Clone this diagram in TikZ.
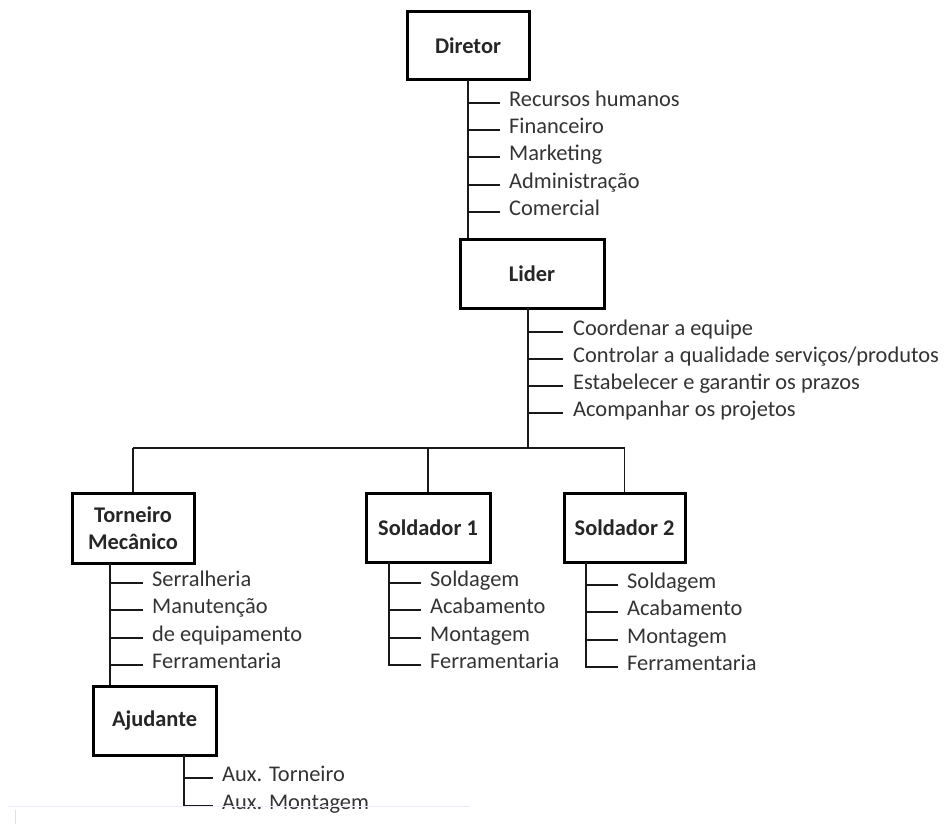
\documentclass[tikz,border=0pt]{standalone}
\usepackage{fontspec}
\setmainfont{Carlito}
\usetikzlibrary{positioning}

\tikzset{
  cargo/.style={rectangle, draw=black, line width=3pt, fill=white, align=center,
    font=\fontsize{22.4}{27}\selectfont\bfseries, text=black!85, inner sep=2pt},
  tarefa/.style={anchor=west, inner sep=0pt, text=black!80, text height=12pt, text depth=5pt},
  ramo/.style={line width=1.9pt, black!90},
}

\begin{document}
\begin{tikzpicture}[x=1pt, y=-1pt, font=\fontsize{22.4}{27}\selectfont]
    \useasboundingbox (0,0) rectangle (944,824);

    % cargos
    \node(dir)[cargo, minimum width=122pt, minimum height=68pt] at (468,46) {Diretor};
    \node(lid)[cargo, minimum width=144pt, minimum height=69pt] at (532,273.5) {Lider};
    \node(tor)[cargo, minimum width=122pt, minimum height=70pt] at (133,528) {Torneiro\\Mecânico};
    \node(sa)[cargo, minimum width=124pt, minimum height=69pt] at (428,527.5) {Soldador 1};
    \node(sb)[cargo, minimum width=121pt, minimum height=69pt] at (624.5,527.5) {Soldador 2};
    \node(aju)[cargo, minimum width=123pt, minimum height=69pt] at (154.5,720.5) {Ajudante};

    \coordinate (dirT) at (468,80);
    \coordinate (lidT) at (528,308);
    \coordinate (torT) at (110,563);
    \coordinate (saT) at (389,562);
    \coordinate (sbT) at (586,562);
    \coordinate (ajuT) at (184,755);

    % tarefas
    \foreach \t [count=\i] in {Recursos humanos, Financeiro, Marketing, Administração, Comercial}
      \node(d\i)[tarefa] at (509,{103+27.2*(\i-1)}) {\t};
    \foreach \t [count=\i] in {Coordenar a equipe, Controlar a qualidade serviços/produtos,
        Estabelecer e garantir os prazos, Acompanhar os projetos}
      \node(l\i)[tarefa] at (573,{332+27.1*(\i-1)}) {\t};
    \foreach \t [count=\i] in {Serralheria, Manutenção, de equipamento, Ferramentaria}
      \node(t\i)[tarefa] at (152,{583+27.3*(\i-1)}) {\t};
    \foreach \t [count=\i] in {Soldagem, Acabamento, Montagem, Ferramentaria}
      \node(a\i)[tarefa] at (430,{583+27.3*(\i-1)}) {\t};
    \foreach \t [count=\i] in {Soldagem, Acabamento, Montagem, Ferramentaria}
      \node(b\i)[tarefa] at (627,{585+27.3*(\i-1)}) {\t};
    \foreach \t [count=\i] in {Aux. Torneiro, Aux. Montagem}
      \node(x\i)[tarefa] at (222,{778+28*(\i-1)}) {\t};

    % troncos
    \draw[ramo] (dirT) -- (dirT |- lid.north);
    \draw[ramo] (lidT) -- (lidT |- 0,448) coordinate (bar);
    \draw[ramo] (tor.north |- bar) -- (sb.north |- bar);
    \foreach \c in {tor, sa, sb}
      \draw[ramo] (\c.north |- bar) -- (\c.north);
    \draw[ramo] (torT) -- (torT |- aju.north);
    \draw[ramo] (saT) |- ([xshift=-9pt]a4.west);
    \draw[ramo] (sbT) |- ([xshift=-9pt]b4.west);
    \draw[ramo] (ajuT) |- ([xshift=-9pt]x2.west);

    % ramos
    \foreach \i in {1,...,5}
      \draw[ramo] (dirT |- d\i.west) -- ([xshift=-9pt]d\i.west);
    \foreach \i in {1,...,4}
      \draw[ramo] (lidT |- l\i.west) -- ([xshift=-10pt]l\i.west);
    \foreach \i in {1,...,4}
      \draw[ramo] (torT |- t\i.west) -- ([xshift=-9pt]t\i.west);
    \foreach \i in {1,...,3} {
      \draw[ramo] (saT |- a\i.west) -- ([xshift=-9pt]a\i.west);
      \draw[ramo] (sbT |- b\i.west) -- ([xshift=-9pt]b\i.west);
    }
    \draw[ramo] (ajuT |- x1.west) -- ([xshift=-9pt]x1.west);

    % margem da pagina
    \draw[blue!8, line width=1pt] (8,806) -- (470,806);
    \draw[gray!25, line width=1pt] (15,810) -- (15,824);

\end{tikzpicture}
\end{document}
